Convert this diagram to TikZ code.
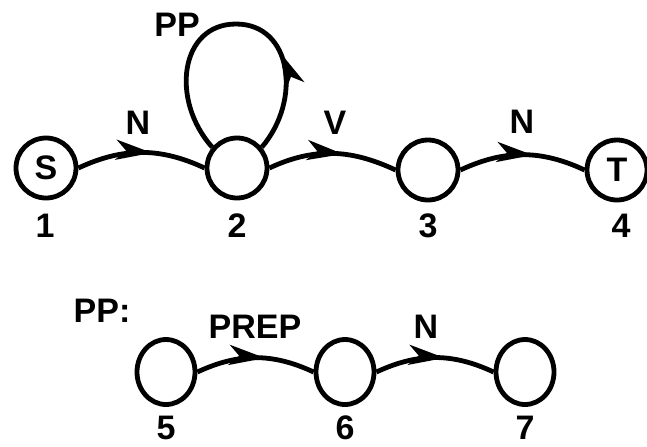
\documentclass[tikz,border=0pt]{standalone}
\usepackage{fontspec}
\setmainfont{Liberation Sans}
\usetikzlibrary{arrows.meta,decorations.markings,shapes.geometric}

\begin{document}
\begin{tikzpicture}[
        x=0.5pt, y=-0.5pt,
        every node/.style={font=\bfseries\fontsize{17}{17}\selectfont, inner sep=0pt},
        st/.style={draw, line width=2.4pt, circle, minimum size=30pt},
        sub/.style={draw, line width=2.4pt, ellipse, minimum width=29pt, minimum height=32.5pt},
        ar/.style={line width=2.4pt, postaction={decorate}, decoration={markings,
            mark=at position #1 with {\arrow{Stealth[length=18pt,width=10pt,inset=5pt]}}}},
        ar/.default=0.58,
    ]
    \useasboundingbox (0,0) rectangle (647,446);

    % main network
    \node[st](s) at (46,168) {S};
    \node[st](n2) at (237,168) {};
    \node[st](n3) at (428,170) {};
    \node[st](t) at (617,170) {T};

    \node(l1) at (45,226) {1};
    \node(l2) at (237,226) {2};
    \node(l3) at (428,226) {3};
    \node(l4) at (621,226) {4};

    \node(en1) at (138,123) {N};
    \node(ev) at (335,123) {V};
    \node(en2) at (522,122) {N};
    \node(epp) at (177,25) {PP};

    \draw[ar] (s.east) to[out=25, in=155] (n2.west);
    \draw[ar] (n2.east) to[out=25, in=155] (n3.west);
    \draw[ar] (n3.east) to[out=25, in=155] (t.west);
    \coordinate (looptop) at (236,24);
    \draw[ar=0.32] (n2.40) .. controls (302,100) and (292,24) .. (looptop)
        .. controls (180,24) and (170,100) .. (n2.140);

    % PP network
    \node(pp) at (102,311) {PP:};
    \node[sub](n5) at (166,372) {};
    \node[sub](n6) at (345,372) {};
    \node[sub](n7) at (525,372) {};

    \node(l5) at (166,428) {5};
    \node(l6) at (345,428) {6};
    \node(l7) at (525,428) {7};

    \node(eprep) at (255,327) {PREP};
    \node(en3) at (426,327) {N};

    \draw[ar] (n5.east) to[out=25, in=155] (n6.west);
    \draw[ar] (n6.east) to[out=25, in=155] (n7.west);
\end{tikzpicture}
\end{document}
